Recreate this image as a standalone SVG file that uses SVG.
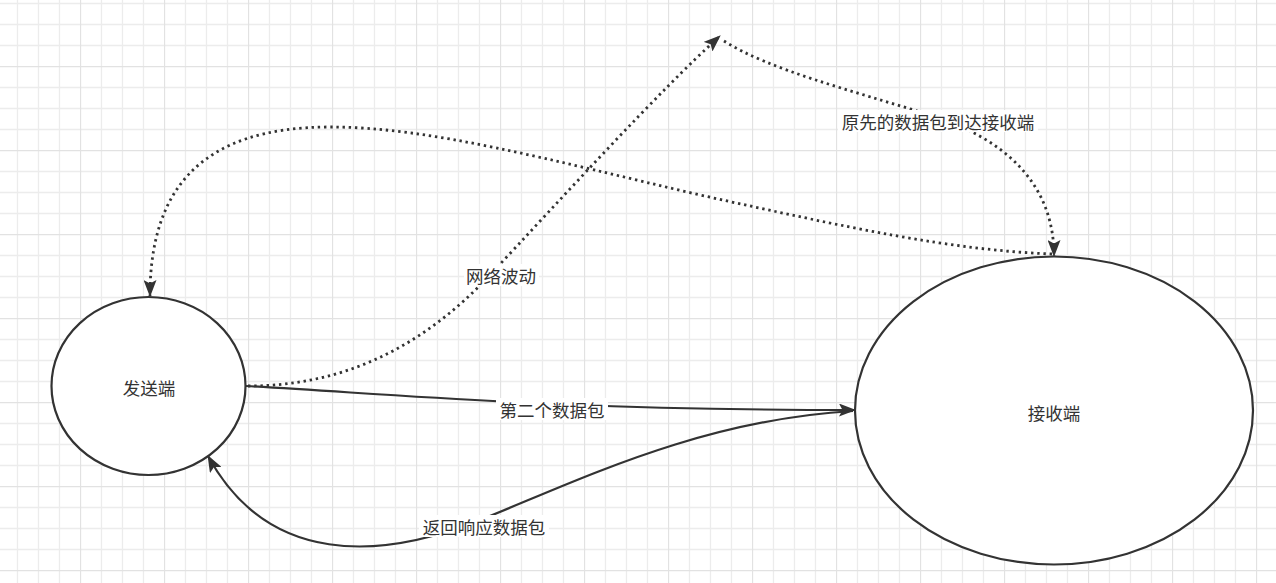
<svg xmlns="http://www.w3.org/2000/svg" width="1276" height="583" viewBox="0 0 1276 583">
<style>
.node{fill:#ffffff;stroke:#333333;stroke-width:2.2}
.lbl{font-family:"Noto Sans CJK SC","Noto Sans",sans-serif;font-size:17.5px;fill:#333333;text-anchor:middle;dominant-baseline:central}
.edge{fill:none;stroke:#333333;stroke-width:2.2}
.dot{stroke-dasharray:2.4 3.8;stroke-width:2.8}
.bg{fill:#ffffff}
</style>
<defs>
<pattern id="grid" x="-4" y="-18" width="84" height="84" patternUnits="userSpaceOnUse">
<path d="M21.5 0V84M42.5 0V84M63.5 0V84M0 21.5H84M0 42.5H84M0 63.5H84" stroke="#ececec" stroke-width="1.3" fill="none"/>
<path d="M0.5 0V84M0 0.5H84" stroke="#e2e2e2" stroke-width="1.3" fill="none"/>
</pattern>
<marker id="arr" viewBox="0 0 17 13" refX="16" refY="6.5" markerWidth="17" markerHeight="13" markerUnits="userSpaceOnUse" orient="auto">
<path d="M0 0L17 6.5L0 13L3.5 6.5Z" fill="#333333"/>
</marker>
</defs>
<rect width="1276" height="583" fill="#ffffff"/>
<rect width="1276" height="583" fill="url(#grid)"/>
<g id="connectors">
<g id="edge-network">
<path class="edge dot" d="M248 386C340 386 420 350 490 275S660 90 720 36" marker-end="url(#arr)"/>
<rect class="bg" x="464" y="264" width="75" height="22"/>
<text class="lbl" x="501" y="275">网络波动</text>
</g>
<g id="edge-original">
<path class="edge dot" d="M724 41C770 70 850 90 930 115C1000 137 1054 180 1054 256" marker-end="url(#arr)"/>
<rect class="bg" x="838" y="110" width="200" height="22"/>
<text class="lbl" x="938" y="121">原先的数据包到达接收端</text>
</g>
<g id="edge-back">
<path class="edge dot" d="M1052 254C950 250 850 228 700 195C550 160 430 127 330 127C200 127 150 190 150 296" marker-end="url(#arr)"/>
</g>
<g id="edge-second">
<path class="edge" d="M246 386C420 396 560 410 855 410" marker-end="url(#arr)"/>
<rect class="bg" x="496" y="398" width="112" height="22"/>
<text class="lbl" x="552" y="409">第二个数据包</text>
</g>
<g id="edge-response">
<path class="edge" d="M853 411C700 420 580 480 480 520C380 560 268 566 208 456" marker-end="url(#arr)"/>
<rect class="bg" x="419" y="515" width="130" height="22"/>
<text class="lbl" x="484" y="526">返回响应数据包</text>
</g>
</g>
<g id="sender">
<ellipse class="node" cx="148.5" cy="386" rx="97" ry="89"/>
<text class="lbl" x="149" y="387">发送端</text>
</g>
<g id="receiver">
<ellipse class="node" cx="1054" cy="410.5" rx="199" ry="154"/>
<text class="lbl" x="1054" y="412">接收端</text>
</g>
</svg>
